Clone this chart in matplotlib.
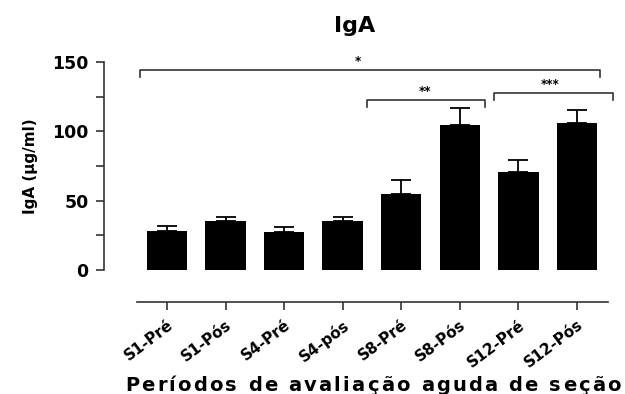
import numpy as np
import matplotlib
matplotlib.use("Agg")
import matplotlib.pyplot as plt
from matplotlib.font_manager import FontProperties

plt.rcParams['font.family'] = ['DejaVu Sans']

grupos = ['S1-Pré', 'S1-Pós', 'S4-Pré', 'S4-pós', 'S8-Pré', 'S8-Pós', 'S12-Pré', 'S12-Pós']
medias = [28, 35, 27.5, 35, 55, 104.5, 71, 106]
erros = [3.5, 3.5, 3.5, 3.5, 10, 12.5, 8, 9.5]

# comparações: (x inicio, x fim, altura, x do texto, texto)
comparacoes = [(-0.46, 7.39, 144, 3.26, '*'), (3.41, 5.43, 122.5, 4.40, '**'),
               (5.58, 7.61, 127.5, 6.54, '***')]

W, H = 625, 394
fig = plt.figure(figsize=(W / 100, H / 100), dpi=100)
ax = fig.add_axes([104 / W, 1 - 270 / H, 504 / W, 208 / H])

# posicionar a espinha antes dos rótulos (set_position reseta os ticks)
ax.spines['bottom'].set_position(('outward', 23))

x = np.arange(len(grupos))
ax.bar(x, medias, width=0.69, color='black')
ax.errorbar(x, medias, yerr=[np.zeros(len(x)), erros], fmt='none', ecolor='black',
            elinewidth=1.3, capsize=7.5, capthick=1.3)

for xi, xj, h, xt, txt in comparacoes:
    ax.plot([xi, xi, xj, xj], [h - 5, h, h, h - 5], color='#333333', lw=1.2, clip_on=False)
    ax.text(xt, h + 1.5, txt, ha='center', va='bottom', fontsize=8.5, fontweight='bold')

ax.set_ylim(0, 150)
ax.set_xlim(-1.075, 7.53)
ax.spines['left'].set_bounds(0, 150)
ax.spines['bottom'].set_bounds(-0.51, 7.53)
ax.set_yticks([0, 50, 100, 150])
ax.set_yticks([25, 75, 125], minor=True)
ax.set_xticks(x)
ax.set_xticklabels(grupos, rotation=37, ha='right', va='top', rotation_mode='anchor',
                   fontsize=11, fontweight='bold')
ax.set_yticklabels(['0', '50', '100', '150'], fontsize=12.5, fontweight='bold')

ax.spines['top'].set_visible(False)
ax.spines['right'].set_visible(False)
for s in ['left', 'bottom']:
    ax.spines[s].set_color('#333333')
    ax.spines[s].set_linewidth(1.2)
ax.tick_params(axis='both', which='both', length=6, width=1.2, color='#333333')
ax.tick_params(axis='x', pad=5)
ax.tick_params(axis='y', pad=5)

ax.set_ylabel('IgA (µg/ml)', fontsize=11, fontweight='bold')
ax.yaxis.set_label_coords(-0.13, 0.5)
fig.text(355 / W, 1 - 26 / H, 'IgA', ha='center', va='center', fontsize=16, fontweight='bold')

# rótulo do eixo x com espaçamento entre letras
rotulo = 'Períodos de avaliação aguda de seção'
fp = FontProperties(family='DejaVu Sans', weight='bold', size=14)
renderer = fig.canvas.get_renderer()
extra = 2.2
px = 125.0
for ch in rotulo:
    fig.text(px / W, 1 - 391 / H, ch, fontproperties=fp, ha='left', va='baseline')
    w, _, _ = renderer.get_text_width_height_descent(ch, fp, ismath=False)
    px += w + extra

fig.savefig('out.png', dpi=100)
